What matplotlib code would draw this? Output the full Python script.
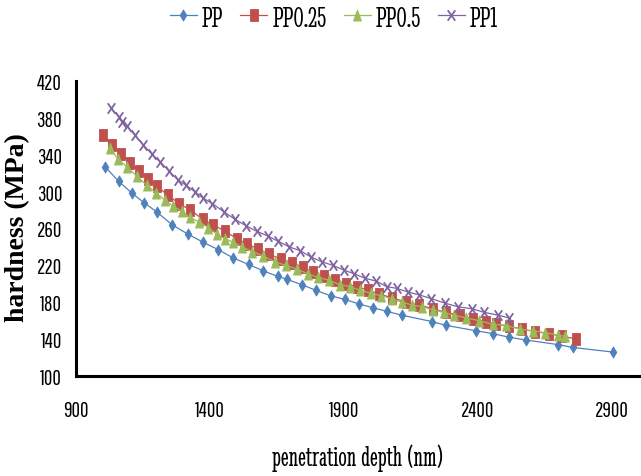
import matplotlib
matplotlib.use("Agg")
import matplotlib.pyplot as plt
import matplotlib.font_manager as fm
from matplotlib.path import Path
from matplotlib.textpath import TextPath
from matplotlib.font_manager import FontProperties

# ---------------- data ----------------
pp_depth = [1008, 1060, 1108, 1154, 1201, 1259, 1317, 1375, 1431, 1487, 1544, 1599, 1653, 1686,
            1742, 1795, 1850, 1904, 1957, 2009, 2061, 2115, 2229, 2279, 2394, 2455, 2517, 2579,
            2700, 2753, 2902]
pp_hard = [327, 311, 298.5, 288, 278, 264, 254, 245, 237, 228, 221, 214, 208, 205,
           199, 193, 187, 183, 178, 174, 170, 166, 159, 155, 149, 146, 142, 139,
           134, 131, 126]

pp025_depth = [1002, 1035, 1069, 1101, 1136, 1168, 1201, 1244, 1285, 1327, 1373, 1412, 1456, 1500,
               1539, 1580, 1621, 1664, 1705, 1746, 1785, 1826, 1866, 1907, 1947, 1988, 2030, 2078,
               2132, 2181, 2231, 2280, 2332, 2381, 2431, 2467, 2515, 2563, 2612, 2665, 2712, 2765]
pp025_hard = [361, 351, 341, 331, 322, 314, 306, 296, 287, 280, 270, 264, 257, 249,
              243, 238, 232, 227, 223, 218, 213, 208, 204, 200, 197, 193.5, 189, 185,
              180, 177, 173, 169, 166, 162, 159, 156, 154, 151, 148, 146, 143, 140.5]

pp05_depth = [1027, 1058, 1090, 1126, 1164, 1200, 1232, 1263, 1294, 1325, 1360, 1394, 1425, 1456,
              1487, 1520, 1557, 1599, 1642, 1682, 1723, 1764, 1802, 1843, 1884, 1922, 1960, 1999,
              2037, 2078, 2117, 2154, 2192, 2231, 2272, 2310, 2355, 2405, 2455, 2503, 2555, 2604,
              2650, 2697, 2723]
pp05_hard = [347, 335, 327, 317, 307, 298, 291, 284, 279, 272, 267, 261, 254, 249,
             245, 240, 235, 230, 224, 220, 216, 211, 207, 204, 199, 197, 193, 190,
             187, 184, 180, 177, 175, 172, 169, 166, 163, 160, 156, 155, 151, 149,
             147, 144.5, 143]

pp1_depth = [1029, 1060, 1073, 1090, 1120, 1150, 1182, 1215, 1248, 1279, 1310, 1343, 1374, 1409,
             1452, 1493, 1534, 1574, 1615, 1655, 1696, 1736, 1777, 1817, 1858, 1899, 1937, 1978,
             2019, 2059, 2098, 2139, 2180, 2225, 2277, 2326, 2376, 2424, 2475, 2514]
pp1_hard = [391, 381, 376, 371, 361, 351, 341, 332, 322, 313, 307, 300, 293, 287,
            278, 270, 263, 257, 252, 246, 240, 236, 229, 224, 220, 215, 211, 206,
            203, 197, 195, 191, 188, 184, 179, 175, 173, 169, 166, 163]

series_names = ["PP", "PP0.25", "PP0.5", "PP1"]
x_ticks = [900, 1400, 1900, 2400, 2900]
y_ticks = [100, 140, 180, 220, 260, 300, 340, 380, 420]
x_title = "penetration depth (nm)"
y_title = "hardness (MPa)"

# ---------------- fonts ----------------
names = {f.name for f in fm.fontManager.ttflist}


def pick(cands):
    for c in cands:
        if c in names:
            return c
    return "DejaVu Sans"


def ink_box(text, family):
    tp = TextPath((0, 0), text, size=100, prop=FontProperties(family=family))
    e = tp.get_extents()
    return e.width, e.height


# choose the narrow sans whose digit shape is closest to the reference (h/w ~ 0.53)
tick_cands = ["Saira ExtraCondensed", "Saira Extra Condensed", "Oswald", "Pathway Gothic One",
              "Fira Sans Extra Condensed", "Barlow Condensed", "Roboto Condensed",
              "PT Sans Narrow", "Archivo Narrow", "Sofia Sans Extra Condensed", "Liberation Sans"]
best, best_err = "Liberation Sans", 9
for f in tick_cands:
    if f in names:
        w100, h100 = ink_box("1400", f)
        err = abs(h100 / w100 - 0.53)
        if err < best_err:
            best, best_err = f, err
tick_font = best
tw100, th100 = ink_box("1400", tick_font)
tick_size = 29 * 0.72 * 100 / tw100  # ink width of "1400" = 29 px

narrow_serif = pick(["Stint Ultra Condensed", "Liberation Serif"])
serif = pick(["Liberation Serif", "DejaVu Serif"])

# ---------------- markers (narrow, as in the reference) ----------------
m_diamond = Path([(0, 0.5), (0.3, 0), (0, -0.5), (-0.3, 0), (0, 0.5)],
                 [Path.MOVETO, Path.LINETO, Path.LINETO, Path.LINETO, Path.CLOSEPOLY])
m_square = Path([(-0.32, -0.5), (0.32, -0.5), (0.32, 0.5), (-0.32, 0.5), (-0.32, -0.5)],
                [Path.MOVETO, Path.LINETO, Path.LINETO, Path.LINETO, Path.CLOSEPOLY])
m_tri = Path([(0, 0.5), (0.36, -0.5), (-0.36, -0.5), (0, 0.5)],
             [Path.MOVETO, Path.LINETO, Path.LINETO, Path.CLOSEPOLY])
m_x = Path([(-0.36, -0.5), (0.36, 0.5), (-0.36, 0.5), (0.36, -0.5)],
           [Path.MOVETO, Path.LINETO, Path.MOVETO, Path.LINETO])

c_blue = "#4F81BD"
c_red = "#C0504D"
c_green = "#9BBB59"
c_purple = "#8064A2"

W, H = 641, 477
fig = plt.figure(figsize=(W / 100, H / 100), dpi=100)
renderer = fig.canvas.get_renderer()


def fitted_size(text, family, target_px, weight="normal", base=20):
    t = fig.text(0, 0, text, fontfamily=family, fontsize=base, fontweight=weight)
    w = t.get_window_extent(renderer).width
    t.remove()
    return base * target_px / w


ax = fig.add_axes([76 / W, 1 - 377 / H, (W - 76) / W, (377 - 82) / H])

ax.plot(pp_depth, pp_hard, color=c_blue, lw=0.9, marker=m_diamond, ms=8,
        mfc=c_blue, mec=c_blue, mew=0.6, label=series_names[0])
ax.plot(pp025_depth, pp025_hard, color=c_red, lw=0.9, marker=m_square, ms=8,
        mfc=c_red, mec=c_red, mew=0.6, label=series_names[1])
ax.plot(pp05_depth, pp05_hard, color=c_green, lw=0.9, marker=m_tri, ms=8,
        mfc=c_green, mec=c_green, mew=0.6, label=series_names[2])
ax.plot(pp1_depth, pp1_hard, color=c_purple, lw=0.9, marker=m_x, ms=7.5,
        mfc=c_purple, mec=c_purple, mew=1.3, label=series_names[3])

ax.set_xlim(900, 3008)
ax.set_ylim(100, 420)
ax.set_xticks(x_ticks)
ax.set_yticks(y_ticks)
ax.set_xticklabels([str(v) for v in x_ticks], fontfamily=tick_font, fontsize=tick_size)
ax.set_yticklabels([str(v) for v in y_ticks], fontfamily=tick_font, fontsize=tick_size)
ax.tick_params(axis="x", length=0, pad=17)
ax.tick_params(axis="y", length=0, pad=10)

for s in ["top", "right"]:
    ax.spines[s].set_visible(False)
for s in ["left", "bottom"]:
    ax.spines[s].set_linewidth(2.2)
    ax.spines[s].set_color("black")

xl_size = fitted_size(x_title, narrow_serif, 171)
fig.text(358 / W, 1 - 458 / H, x_title, fontfamily=narrow_serif,
         fontsize=xl_size, ha="center", va="center")
fig.text(18 / W, 1 - 228 / H, y_title, fontfamily=serif, fontweight="bold",
         fontsize=20, ha="center", va="center", rotation=90)

leg_size = fitted_size("PP0.25", narrow_serif, 54)
em = leg_size * 100 / 72
leg = fig.legend(loc="center", bbox_to_anchor=(334 / W, 1 - 19 / H), ncol=4,
                 frameon=False, prop={"family": narrow_serif, "size": leg_size},
                 handlelength=27 / em, handletextpad=5 / em, columnspacing=17 / em,
                 borderaxespad=0, borderpad=0)

fig.savefig("out.png", dpi=100)
